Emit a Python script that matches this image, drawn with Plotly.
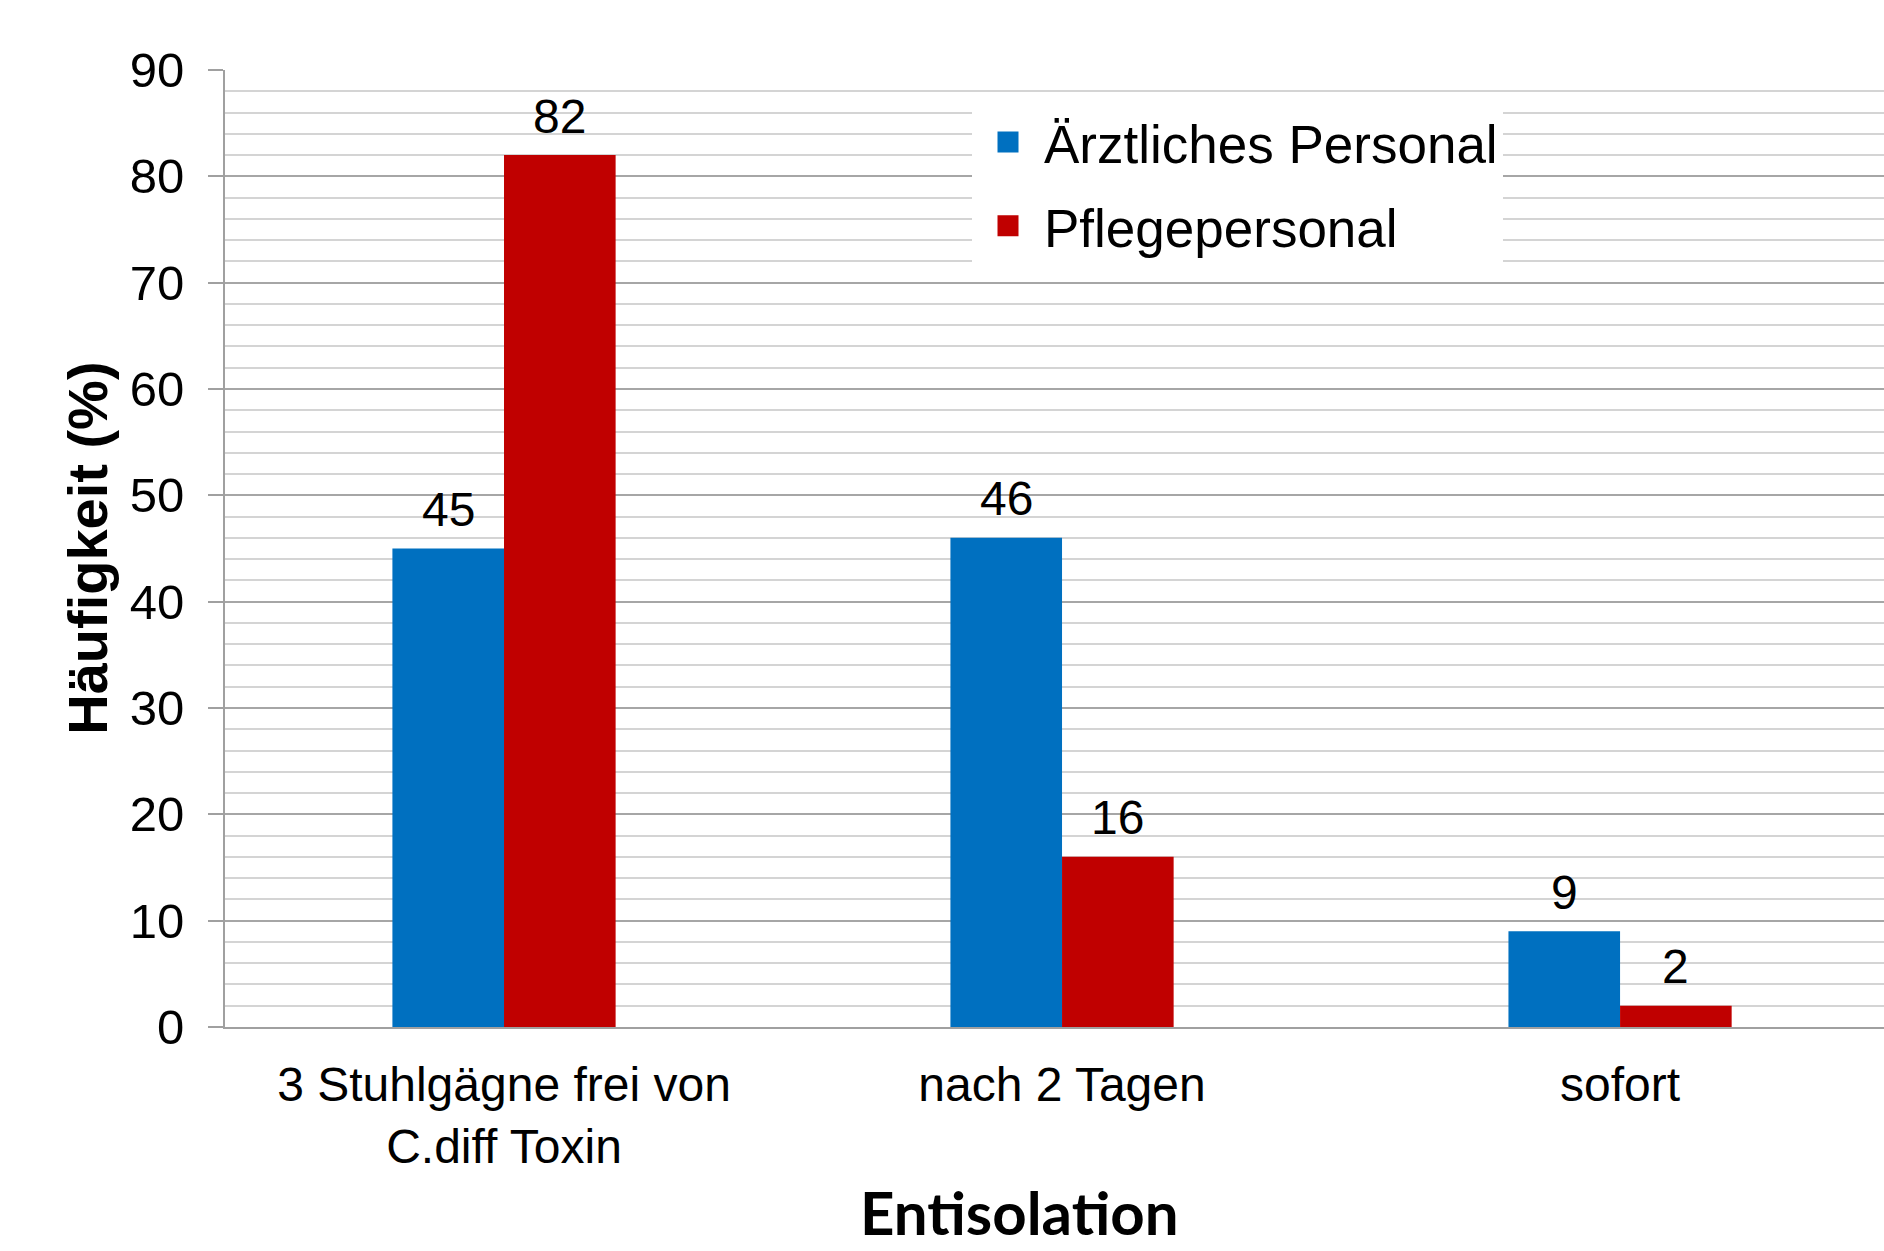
import plotly.graph_objects as go

categories = ["3 Stuhlgägne frei von<br>C.diff Toxin", "nach 2 Tagen", "sofort"]
series_names = ["Ärztliches Personal", "Pflegepersonal"]
aerztlich = [45, 46, 9]
pflege = [82, 16, 2]
colors = ["#0070C0", "#C00000"]
y_ticks = [0, 10, 20, 30, 40, 50, 60, 70, 80, 90]

FONT = "Liberation Sans, Arial, sans-serif"

fig = go.Figure()
for name, vals, col in zip(series_names, [aerztlich, pflege], colors):
    fig.add_trace(go.Bar(x=categories, y=vals, name=name, marker_color=col,
                         marker_line_width=0, showlegend=False))
# legend-only entries with larger square swatches
for i, (name, col) in enumerate(zip(series_names, colors)):
    fig.add_trace(go.Scatter(x=[None], y=[None], mode="markers", name=name,
                             legendgroup=f"g{i}",
                             marker=dict(symbol="square", size=16, color=col,
                                         line=dict(color=col, width=5))))

annotations = []
for k, vals in enumerate([aerztlich, pflege]):
    off = -0.1 if k == 0 else 0.1
    for i, v in enumerate(vals):
        annotations.append(dict(x=i + off, y=v, xref="x", yref="y", text=str(v),
                                showarrow=False, yanchor="middle", yshift=39,
                                font=dict(family=FONT, size=48, color="black")))
annotations.append(dict(x=-0.083, y=0.5, xref="paper", yref="paper",
                        text="<b>Häufigkeit (%)</b>", textangle=-90, showarrow=False,
                        xanchor="center", yanchor="middle",
                        font=dict(family=FONT, size=56, color="black")))
annotations.append(dict(x=0.479, y=-0.2335, xref="paper", yref="paper",
                        text="<b>Entisolation</b>", showarrow=False,
                        xanchor="center", yanchor="bottom",
                        font=dict(family="Lato, Open Sans, sans-serif", size=60, color="black")))

fig.update_layout(
    width=1884, height=1251,
    margin=dict(l=225, r=0, t=70, b=224, pad=0),
    paper_bgcolor="white", plot_bgcolor="white",
    barmode="group", bargap=0.6, bargroupgap=0,
    font=dict(family=FONT, size=48, color="black"),
    legend=dict(x=(972 - 225) / 1659, y=0.9676, xanchor="left", yanchor="top",
                bgcolor="white", borderwidth=0, traceorder="grouped",
                tracegroupgap=12, itemwidth=62,
                font=dict(family=FONT, size=53, color="black"),
                itemsizing="trace"),
    annotations=annotations,
    xaxis=dict(type="category", range=[-0.5, 2.473], showgrid=False,
               showline=True, linecolor="#a0a0a0", linewidth=2,
               ticks="", ticklabelstandoff=14,
               tickfont=dict(family=FONT, size=48, color="black")),
    yaxis=dict(range=[0, 90], tickvals=y_ticks, showgrid=True, gridcolor="#a6a6a6",
               gridwidth=2, showline=True, linecolor="#a0a0a0", linewidth=2,
               ticks="outside", ticklen=15, tickwidth=2, tickcolor="#a0a0a0",
               ticklabelstandoff=14,
               tickfont=dict(family=FONT, size=49, color="black"),
               minor=dict(dtick=2, showgrid=True, gridcolor="#d4d4d4", gridwidth=2, ticks=""),
               zeroline=False),
)

fig.write_html("out.html")
